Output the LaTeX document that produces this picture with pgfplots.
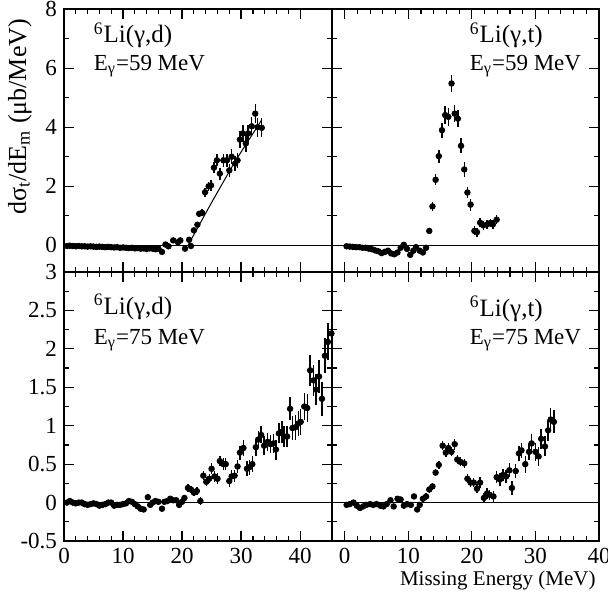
\documentclass[border=0pt]{standalone}
\usepackage{fontspec}
\setmainfont{Liberation Serif}
\usepackage{pgfplots}
\pgfplotsset{compat=1.18}
\usepackage{pgfplotstable}
\usepgfplotslibrary{groupplots}

% 6Li(g,d), E_g = 59 MeV
\pgfplotstableread{
x y e
0.5 -0.02 0.03
1.0 -0.01 0.03
1.5 -0.02 0.03
2.0 -0.03 0.03
2.5 -0.02 0.03
3.0 -0.03 0.03
3.5 -0.03 0.03
4.0 -0.04 0.03
4.5 -0.03 0.03
5.0 -0.04 0.03
5.5 -0.05 0.03
6.0 -0.04 0.03
6.5 -0.05 0.03
7.0 -0.06 0.03
7.5 -0.05 0.03
8.0 -0.06 0.03
8.5 -0.07 0.03
9.0 -0.06 0.03
9.5 -0.08 0.03
10.0 -0.07 0.03
10.5 -0.08 0.03
11.0 -0.09 0.03
11.5 -0.08 0.03
12.0 -0.10 0.03
12.5 -0.09 0.03
13.0 -0.11 0.03
13.5 -0.10 0.03
14.0 -0.12 0.03
14.5 -0.10 0.03
15.0 -0.11 0.03
15.5 -0.13 0.03
16.0 -0.11 0.03
16.6 -0.22 0.04
17.2 0.03 0.05
17.7 -0.03 0.05
18.5 0.17 0.06
19.3 0.11 0.06
19.7 0.17 0.06
20.5 -0.11 0.06
21.2 0.19 0.07
21.5 -0.02 0.07
22.0 0.51 0.08
22.6 0.70 0.10
22.9 1.07 0.10
23.4 1.10 0.12
23.9 1.80 0.15
24.5 2.00 0.15
24.9 2.03 0.18
25.4 2.63 0.18
25.9 2.88 0.20
26.4 2.43 0.20
27.0 2.88 0.22
27.6 2.88 0.22
28.0 2.54 0.22
28.4 3.00 0.25
29.0 2.77 0.25
29.4 2.88 0.25
29.8 3.58 0.28
30.3 3.79 0.28
30.8 3.45 0.30
31.2 3.79 0.30
31.8 4.03 0.30
32.4 4.46 0.32
32.8 4.00 0.32
33.5 3.98 0.32
}\tlData

% 6Li(g,t), E_g = 59 MeV
\pgfplotstableread{
x y e
0.3 -0.03 0.03
0.8 -0.04 0.03
1.3 -0.05 0.03
1.8 -0.06 0.03
2.3 -0.06 0.03
2.8 -0.08 0.03
3.3 -0.08 0.03
3.8 -0.11 0.03
4.3 -0.13 0.04
4.8 -0.17 0.04
5.3 -0.20 0.04
5.8 -0.26 0.04
6.3 -0.22 0.04
6.8 -0.18 0.04
7.3 -0.27 0.05
7.8 -0.30 0.05
8.3 -0.24 0.05
8.8 -0.08 0.05
9.3 0.02 0.05
9.8 -0.12 0.05
10.3 -0.32 0.05
10.8 -0.18 0.06
11.2 -0.06 0.06
11.8 -0.18 0.06
12.3 -0.24 0.06
12.8 -0.08 0.06
13.3 0.49 0.10
13.8 1.32 0.15
14.3 2.22 0.18
14.8 3.02 0.22
15.3 3.90 0.25
15.8 4.41 0.30
16.3 4.35 0.30
16.8 5.48 0.30
17.3 4.46 0.30
17.8 4.29 0.30
18.3 3.37 0.25
18.8 2.57 0.25
19.3 1.79 0.20
19.8 1.38 0.20
20.4 0.49 0.15
20.8 0.45 0.15
21.3 0.77 0.15
21.8 0.68 0.15
22.4 0.71 0.15
22.9 0.76 0.15
23.3 0.71 0.15
23.9 0.87 0.15
}\trData

% 6Li(g,d), E_g = 75 MeV
\pgfplotstableread{
x y e
0.5 0.00 0.02
1.0 0.02 0.02
1.5 0.00 0.02
2.0 -0.01 0.02
2.5 0.00 0.02
3.0 0.00 0.02
3.5 -0.02 0.02
4.0 -0.03 0.02
4.5 -0.02 0.02
5.0 -0.01 0.02
5.5 -0.02 0.02
6.0 -0.04 0.02
6.5 -0.03 0.02
7.0 -0.02 0.02
7.5 0.00 0.02
8.0 0.00 0.02
8.5 -0.04 0.02
9.0 -0.03 0.02
9.5 -0.03 0.02
10.0 -0.02 0.02
10.5 -0.01 0.02
11.0 0.02 0.02
11.5 0.01 0.02
12.0 -0.02 0.02
12.5 -0.05 0.02
13.0 -0.08 0.02
13.5 -0.09 0.02
14.2 0.07 0.03
14.6 -0.03 0.03
15.0 0.00 0.03
15.5 0.02 0.03
16.0 0.01 0.03
16.6 -0.08 0.03
17.0 0.01 0.03
17.5 0.02 0.03
18.0 0.05 0.03
18.5 0.03 0.03
19.0 0.03 0.03
19.5 -0.03 0.03
20.0 0.01 0.04
20.4 0.06 0.04
21.0 0.19 0.05
21.5 0.17 0.05
22.0 0.13 0.05
22.5 0.15 0.05
23.1 0.02 0.05
23.6 0.35 0.06
24.1 0.27 0.06
24.6 0.31 0.06
25.0 0.44 0.07
25.5 0.34 0.07
26.0 0.31 0.07
26.4 0.54 0.07
27.0 0.50 0.08
27.4 0.50 0.08
28.0 0.28 0.08
28.4 0.34 0.08
28.9 0.35 0.08
29.4 0.47 0.09
29.8 0.65 0.09
30.4 0.71 0.10
31.0 0.44 0.10
31.4 0.46 0.10
31.9 0.50 0.10
32.5 0.72 0.11
32.9 0.82 0.11
33.4 0.88 0.11
33.9 0.74 0.12
34.5 0.79 0.12
35.0 0.76 0.12
35.5 0.77 0.12
35.9 0.69 0.13
36.4 0.90 0.13
36.9 0.92 0.14
37.3 0.86 0.14
37.8 0.86 0.14
38.3 1.22 0.15
38.7 0.97 0.15
39.2 0.98 0.16
39.7 1.03 0.16
40.1 1.05 0.17
40.7 1.25 0.17
41.2 1.23 0.18
41.7 1.72 0.20
42.3 1.59 0.20
42.7 1.47 0.20
43.2 1.64 0.22
43.7 1.35 0.22
44.2 1.91 0.23
44.7 2.09 0.24
45.3 2.20 0.28
}\blData

% 6Li(g,t), E_g = 75 MeV
\pgfplotstableread{
x y e
0.3 -0.03 0.02
0.8 -0.02 0.02
1.4 0.00 0.02
1.9 -0.04 0.02
2.4 -0.07 0.02
2.9 -0.05 0.02
3.4 -0.03 0.02
4.0 -0.02 0.02
4.5 -0.03 0.02
5.0 -0.02 0.02
5.6 -0.04 0.02
6.1 -0.05 0.02
6.6 -0.02 0.02
7.2 0.03 0.02
7.7 -0.05 0.02
8.3 0.05 0.03
8.8 0.04 0.03
9.3 -0.04 0.03
9.8 -0.02 0.03
10.4 -0.03 0.03
10.9 0.08 0.03
11.4 -0.09 0.03
11.8 -0.03 0.03
12.3 0.05 0.04
12.8 0.08 0.04
13.3 0.17 0.04
13.8 0.21 0.04
14.3 0.39 0.05
14.8 0.49 0.05
15.4 0.74 0.06
15.9 0.65 0.06
16.3 0.71 0.06
16.8 0.66 0.06
17.3 0.76 0.07
17.7 0.56 0.06
18.2 0.53 0.06
18.8 0.51 0.06
19.3 0.31 0.06
19.8 0.26 0.06
20.3 0.26 0.06
20.8 0.18 0.06
21.3 0.26 0.07
21.9 0.06 0.07
22.4 0.12 0.07
22.8 0.10 0.07
23.4 0.08 0.07
23.9 0.33 0.08
24.4 0.30 0.08
24.9 0.36 0.08
25.4 0.34 0.08
25.9 0.42 0.09
26.3 0.19 0.09
26.9 0.41 0.09
27.4 0.64 0.10
27.8 0.68 0.10
28.4 0.50 0.11
29.0 0.66 0.11
29.4 0.77 0.12
30.0 0.66 0.12
30.5 0.60 0.12
30.9 0.83 0.13
31.5 0.73 0.13
32.0 0.94 0.14
32.4 1.08 0.15
32.9 1.05 0.15
}\brData

\pgfplotsset{
  panel/.style={
    scale only axis,
    tick align=inside,
    major tick length=5pt,
    minor tick length=2.5pt,
    axis line style={line width=0.8pt},
    every tick/.style={black, line width=0.6pt},
    ticklabel style={font=\fontsize{11.5}{13}\selectfont},
    /pgf/number format/assume math mode=true,
    xtick={0,10,20,30,40},
    minor x tick num=4,
    minor y tick num=1,
  },
  pts/.style={black, only marks, mark=*, mark size=1.4pt,
    error bars/.cd, y dir=both, y explicit, error mark=none,
    error bar style={line width=0.7pt}},
  zeroline/.style={black, line width=0.5pt, forget plot},
}
\tikzset{
  lbl/.style={anchor=base west, inner sep=0pt, font=\fontsize{11.5}{13}\selectfont},
  lblbig/.style={anchor=base west, inner sep=0pt, font=\fontsize{12.5}{14}\selectfont},
}

\begin{document}
\begin{tikzpicture}
\begin{groupplot}[
  group style={group size=2 by 2, horizontal sep=0pt, vertical sep=0pt},
  panel,
]
% top left
\nextgroupplot[width=134pt, height=131.5pt, xmin=0, xmax=45.4,
  ymin=-0.9, ymax=8, ytick={0,2,4,6,8}, xticklabels={},
  ylabel={dσ\textsubscript{t}/dE\textsubscript{m} (μb/MeV)},
  ylabel style={font=\fontsize{13}{15}\selectfont, at={(ticklabel cs:0.59)}}]
\addplot[zeroline] coordinates {(-5,0) (50,0)};
\addplot[black, line width=0.5pt] coordinates {(21.0,0) (25.0,1.45) (29.0,2.85) (33.5,4.25)};
\addplot[pts] table[x=x, y=y, y error=e] {\tlData};
\node[lblbig] at (rel axis cs:0.11,0.871) {\textsuperscript{6}Li(γ,d)};
\node[lbl] at (rel axis cs:0.11,0.768) {E\textsubscript{γ}=59 MeV};

% top right
\nextgroupplot[width=133.5pt, height=131.5pt, xmin=-2, xmax=40,
  ymin=-0.9, ymax=8, ytick={0,2,4,6,8}, xticklabels={}, yticklabels={}]
\addplot[zeroline] coordinates {(-5,0) (50,0)};
\addplot[pts] table[x=x, y=y, y error=e] {\trData};
\node[lblbig] at (rel axis cs:0.515,0.871) {\textsuperscript{6}Li(γ,t)};
\node[lbl] at (rel axis cs:0.515,0.768) {E\textsubscript{γ}=59 MeV};

% bottom left
\nextgroupplot[width=134pt, height=134.5pt, xmin=0, xmax=45.4,
  ymin=-0.5, ymax=3, ytick={-0.5,0,0.5,1,1.5,2,2.5,3}]
\addplot[zeroline] coordinates {(-5,0) (50,0)};
\addplot[pts] table[x=x, y=y, y error=e] {\blData};
\node[lblbig] at (rel axis cs:0.11,0.843) {\textsuperscript{6}Li(γ,d)};
\node[lbl] at (rel axis cs:0.11,0.731) {E\textsubscript{γ}=75 MeV};

% bottom right
\nextgroupplot[width=133.5pt, height=134.5pt, xmin=-2, xmax=40,
  ymin=-0.5, ymax=3, ytick={-0.5,0,0.5,1,1.5,2,2.5,3}, yticklabels={}]
\addplot[zeroline] coordinates {(-5,0) (50,0)};
\addplot[pts] table[x=x, y=y, y error=e] {\brData};
\node[lblbig] at (rel axis cs:0.515,0.835) {\textsuperscript{6}Li(γ,t)};
\node[lbl] at (rel axis cs:0.515,0.731) {E\textsubscript{γ}=75 MeV};
\end{groupplot}
\node[anchor=north east, inner sep=0pt, font=\fontsize{10.5}{12}\selectfont]
  at ([xshift=-1.5pt, yshift=-15pt]group c2r2.south east) {Missing Energy (MeV)};
% trim the page to the reference's margins (the last "40" is cut at the right edge)
\coordinate (bbsw) at ([xshift=-32pt, yshift=-26pt]group c1r2.south west);
\coordinate (bbne) at ([xshift=4.5pt, yshift=4.5pt]group c2r1.north east);
\pgfresetboundingbox
\path[use as bounding box] (bbsw) rectangle (bbne);
\end{tikzpicture}
\end{document}
